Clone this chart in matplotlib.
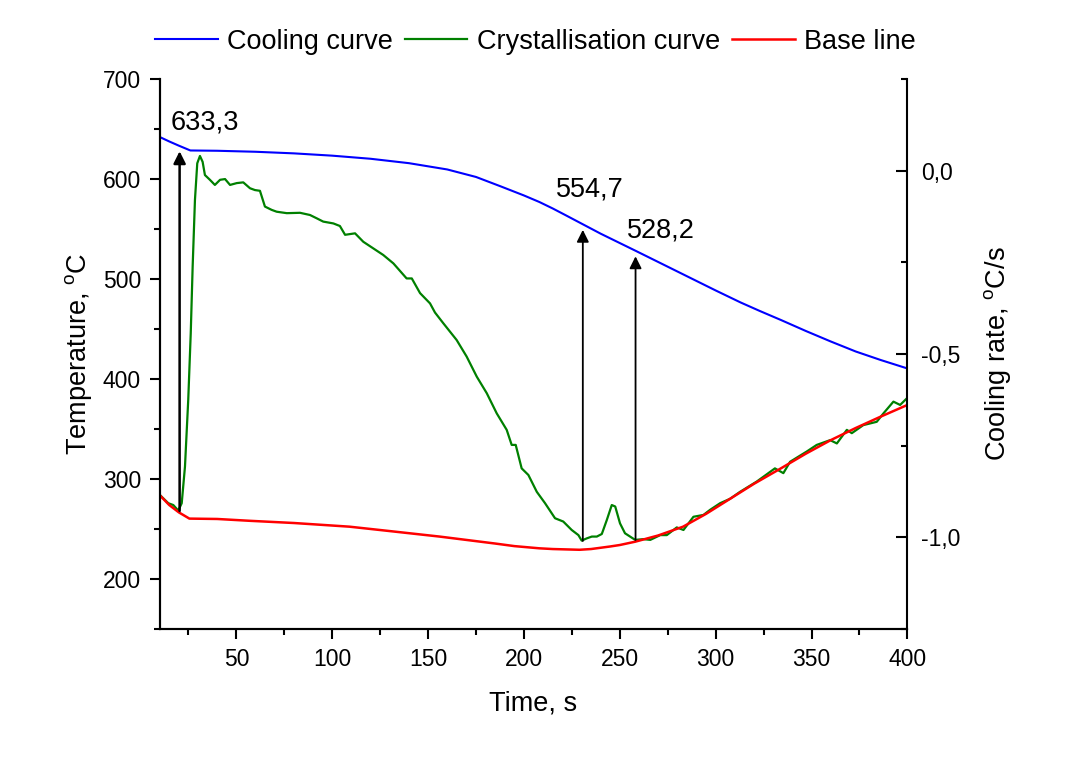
import matplotlib
matplotlib.use("Agg")
import matplotlib.pyplot as plt
from matplotlib.ticker import MultipleLocator, FuncFormatter

plt.rcParams['font.family'] = ['Liberation Sans', 'DejaVu Sans']
plt.rcParams['mathtext.fontset'] = 'custom'
plt.rcParams['mathtext.rm'] = 'Liberation Sans'

# cooling curve, temperature in degC
t_cool = [10, 15, 20, 26, 40, 60, 80, 100, 120, 140, 160, 175, 188, 200, 208, 215,
          222, 230.7, 240, 250, 258.2, 270, 280, 290, 300, 313, 323, 334, 347, 360,
          373, 386, 400]
T_cool = [642.0, 637.5, 633.3, 628.5, 628.2, 627.2, 625.6, 623.3, 620.2, 615.8, 609.5,
          602.0, 592.5, 583.5, 577.0, 570.5, 563.5, 554.7, 545.3, 535.9, 528.2, 517.0,
          507.5, 498.0, 488.5, 476.5, 468.0, 459.0, 448.0, 437.5, 427.5, 419.0, 410.5]

# crystallisation curve (first derivative), degC/s
t_cr = [10.2, 14.5, 17.1, 19.7, 21.5, 23.2, 24.9, 26.2, 27.2, 28.4, 29.6, 31.0, 32.4,
        33.6, 36.2, 38.8, 41.5, 44.1, 46.7, 50.2, 53.6, 57.1, 59.7, 62.3, 64.9, 68.4,
        71.0, 76.3, 83.2, 88.4, 91.9, 95.3, 100.6, 104.0, 106.7, 109.3, 111.9, 116.2,
        121.4, 126.6, 131.9, 138.8, 141.5, 145.8, 151.0, 153.6, 157.9, 164.9, 170.1,
        175.4, 180.6, 185.8, 191.0, 193.6, 195.7, 198.8, 202.3, 206.7, 211.0, 216.2,
        220.5, 224.9, 228.4, 230.1, 232.7, 235.4, 238.0, 240.6, 243.2, 245.8, 247.6,
        250.1, 252.7, 258.0, 262.3, 265.9, 271.1, 274.5, 279.7, 283.2, 288.4, 293.6,
        297.1, 302.3, 307.5, 312.7, 321.4, 330.9, 335.3, 338.8, 347.5, 352.7, 359.7,
        363.2, 368.4, 371.0, 377.0, 384.0, 387.5, 392.7, 396.2, 399.7]
r_cr = [-0.885, -0.907, -0.912, -0.927, -0.907, -0.807, -0.625, -0.444, -0.262, -0.080,
        0.020, 0.040, 0.024, -0.012, -0.025, -0.039, -0.025, -0.023, -0.039, -0.034,
        -0.032, -0.048, -0.053, -0.055, -0.098, -0.107, -0.112, -0.116, -0.115, -0.121,
        -0.130, -0.139, -0.144, -0.151, -0.175, -0.173, -0.171, -0.194, -0.212, -0.230,
        -0.253, -0.294, -0.294, -0.334, -0.362, -0.387, -0.416, -0.462, -0.507, -0.562,
        -0.607, -0.662, -0.707, -0.748, -0.748, -0.812, -0.830, -0.876, -0.907, -0.948,
        -0.957, -0.980, -0.994, -1.009, -1.003, -0.998, -0.998, -0.991, -0.953, -0.912,
        -0.916, -0.962, -0.989, -1.007, -1.005, -1.007, -0.994, -0.994, -0.973, -0.980,
        -0.944, -0.939, -0.925, -0.907, -0.895, -0.876, -0.848, -0.812, -0.825, -0.794,
        -0.766, -0.748, -0.735, -0.744, -0.707, -0.716, -0.694, -0.685, -0.662, -0.630,
        -0.639, -0.621]

# base line, degC/s
t_base = [10, 15, 20, 25.5, 40, 57, 80, 109, 130, 156, 185, 195, 208, 215, 222, 229,
          235, 245, 250, 258, 270, 283, 295, 307.5, 320, 334, 347, 360, 373, 386, 400]
r_base = [-0.885, -0.912, -0.932, -0.949, -0.950, -0.955, -0.961, -0.971, -0.983,
          -0.998, -1.017, -1.024, -1.030, -1.032, -1.033, -1.034, -1.032, -1.025,
          -1.021, -1.012, -0.995, -0.971, -0.936, -0.895, -0.854, -0.812, -0.772,
          -0.735, -0.702, -0.671, -0.639]

# characteristic points: time, temperature on the cooling curve, arrow start
marks_t = [20.4, 230.7, 258.2]
marks_T = [633.3, 554.7, 528.2]
marks_from = [268, 238, 239]
marks_text_xy = [(15.5, 656), (216.5, 589), (253.5, 548)]

fs = 19.5
fs_tick = 16.5

fig = plt.figure(figsize=(10.84, 7.6), dpi=100)
ax = fig.add_axes([0.1473, 0.1724, 0.6898, 0.7237])
ax2 = ax.twinx()

l_cool, = ax.plot(t_cool, T_cool, color='#0000ff', lw=1.5, label='Cooling curve')
l_cr, = ax2.plot(t_cr, r_cr, color='#008000', lw=1.6, label='Crystallisation curve')
l_base, = ax2.plot(t_base, r_base, color='#ff0000', lw=1.8, label='Base line')

for i in range(len(marks_t)):
    ax2.annotate('', xy=(marks_t[i], marks_T[i]), xytext=(marks_t[i], marks_from[i]),
                 xycoords=ax.transData, textcoords=ax.transData,
                 arrowprops=dict(arrowstyle='-|>', color='black',
                                 lw=1.8 if i == 0 else 1.3,
                                 mutation_scale=18, shrinkA=0, shrinkB=4))
    ax2.text(marks_text_xy[i][0], marks_text_xy[i][1], f"{marks_T[i]:.1f}".replace('.', ','),
             transform=ax.transData, fontsize=fs, va='center', ha='left')

ax.set_xlim(10, 400)
ax.set_ylim(150, 700)
ax2.set_ylim(-1.25, 0.25)

ax.xaxis.set_major_locator(MultipleLocator(50))
ax.xaxis.set_minor_locator(MultipleLocator(25))
ax.yaxis.set_major_locator(MultipleLocator(100))
ax.yaxis.set_minor_locator(MultipleLocator(50))
ax2.yaxis.set_major_locator(MultipleLocator(0.5))
ax2.yaxis.set_minor_locator(MultipleLocator(0.25))
ax2.yaxis.set_major_formatter(FuncFormatter(
    lambda v, p: ("0,0" if abs(v) < 1e-9 else f"{v:.1f}".replace('.', ','))))

for a in (ax, ax2):
    a.spines['top'].set_visible(False)
    for s in a.spines.values():
        s.set_linewidth(1.5)
ax.spines['right'].set_visible(False)

ax.tick_params(axis='both', which='major', direction='out', length=7.5, width=1.5,
               labelsize=fs_tick, pad=6)
ax.tick_params(axis='both', which='minor', direction='out', length=4.5, width=1.5)
ax2.tick_params(axis='y', which='major', direction='in', length=8, width=1.5,
                labelsize=fs_tick, pad=10)
ax2.tick_params(axis='y', which='minor', direction='in', length=4.5, width=1.5)

ax.set_xlabel('Time, s', fontsize=fs, labelpad=14)
ax.set_ylabel(r'Temperature, $^{\mathrm{o}}$C', fontsize=fs, labelpad=6)
ax2.set_ylabel(r'Cooling rate, $^{\mathrm{o}}$C/s', fontsize=fs, labelpad=15)

fig.legend(handles=[l_cool, l_cr, l_base], loc='center', bbox_to_anchor=(0.494, 0.945),
           ncol=3, frameon=False, fontsize=fs, handlelength=2.3, handletextpad=0.35,
           columnspacing=0.45, borderaxespad=0)

fig.savefig('out.png', dpi=100)
